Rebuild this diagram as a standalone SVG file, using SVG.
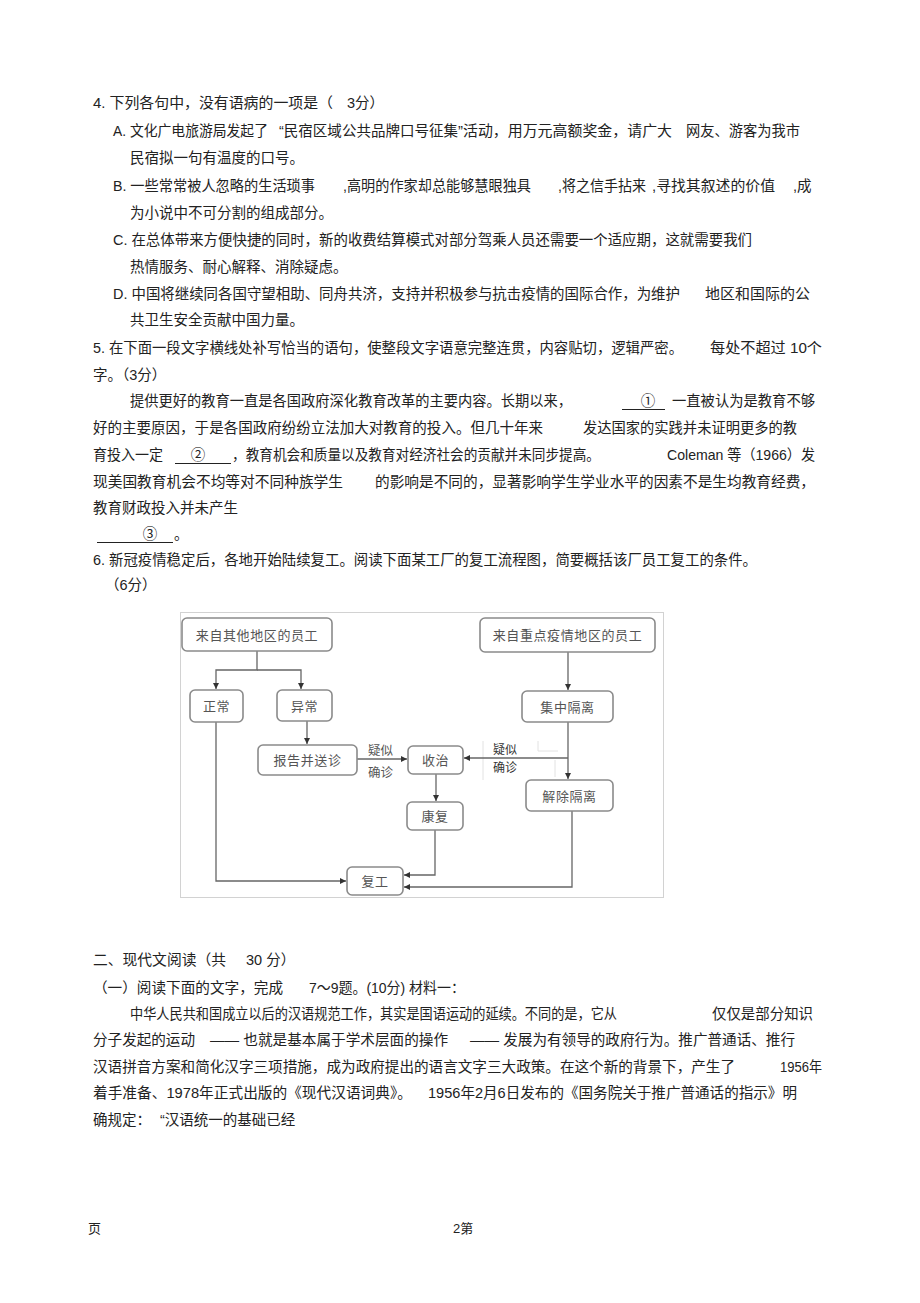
<svg xmlns="http://www.w3.org/2000/svg" width="920" height="1303" viewBox="0 0 920 1303">
<style>
.t{font-family:"Liberation Sans","Noto Sans CJK SC",sans-serif;font-size:14.5px;fill:#222}
.n rect{fill:#fff;stroke:#8a8a8a;stroke-width:1.6}
.n text{font-family:"Noto Sans CJK SC",sans-serif;font-size:13px;fill:#555;text-anchor:middle;letter-spacing:0.6px}
.lb{font-family:"Noto Sans CJK SC",sans-serif;font-size:12.5px;fill:#555}
.lb2{font-family:"Noto Sans CJK SC",sans-serif;font-size:12px;fill:#333}
.c path{fill:none;stroke:#666;stroke-width:1.3}
.ul{stroke:#222;stroke-width:1}
</style>
<defs>
<marker id="ah" markerUnits="userSpaceOnUse" markerWidth="8" markerHeight="8" refX="6" refY="4" orient="auto">
<path d="M0,1 L6,4 L0,7 Z" fill="#333"/>
</marker>
</defs>
<rect width="920" height="1303" fill="#fff"/>

<g id="question-text">
<text class="t" x="93" y="108" textLength="240" lengthAdjust="spacingAndGlyphs">4. 下列各句中，没有语病的一项是（</text>
<text class="t" x="347" y="108">3分）</text>

<text class="t" x="113" y="136" textLength="155" lengthAdjust="spacingAndGlyphs">A. 文化广电旅游局发起了</text>
<text class="t" x="279" y="136" textLength="179" lengthAdjust="spacingAndGlyphs">“民宿区域公共品牌口号征集</text>
<text class="t" x="458" y="136" textLength="214" lengthAdjust="spacingAndGlyphs">”活动，用万元高额奖金，请广大</text>
<text class="t" x="686" y="136" textLength="114" lengthAdjust="spacingAndGlyphs">网友、游客为我市</text>
<text class="t" x="130" y="163">民宿拟一句有温度的口号。</text>

<text class="t" x="113" y="191" textLength="202" lengthAdjust="spacingAndGlyphs">B. 一些常常被人忽略的生活琐事</text>
<text class="t" x="343" y="191" textLength="188" lengthAdjust="spacingAndGlyphs">,高明的作家却总能够慧眼独具</text>
<text class="t" x="558" y="191" textLength="88" lengthAdjust="spacingAndGlyphs">,将之信手拈来</text>
<text class="t" x="652" y="191" textLength="123" lengthAdjust="spacingAndGlyphs">,寻找其叙述的价值</text>
<text class="t" x="793" y="191">,成</text>
<text class="t" x="130" y="218">为小说中不可分割的组成部分。</text>

<text class="t" x="113" y="245" textLength="639" lengthAdjust="spacingAndGlyphs">C. 在总体带来方便快捷的同时，新的收费结算模式对部分驾乘人员还需要一个适应期，这就需要我们</text>
<text class="t" x="130" y="272">热情服务、耐心解释、消除疑虑。</text>

<text class="t" x="113" y="299" textLength="567" lengthAdjust="spacingAndGlyphs">D. 中国将继续同各国守望相助、同舟共济，支持并积极参与抗击疫情的国际合作，为维护</text>
<text class="t" x="705" y="299" textLength="105" lengthAdjust="spacingAndGlyphs">地区和国际的公</text>
<text class="t" x="130" y="325">共卫生安全贡献中国力量。</text>

<text class="t" x="93" y="353" textLength="590" lengthAdjust="spacingAndGlyphs">5. 在下面一段文字横线处补写恰当的语句，使整段文字语意完整连贯，内容贴切，逻辑严密。</text>
<text class="t" x="710" y="353" textLength="112" lengthAdjust="spacingAndGlyphs">每处不超过 10个</text>
<text class="t" x="93" y="380">字。（3分）</text>

<text class="t" x="130" y="406" textLength="442" lengthAdjust="spacingAndGlyphs">提供更好的教育一直是各国政府深化教育改革的主要内容。长期以来，</text>
<line class="ul" x1="622" y1="409.5" x2="665" y2="409.5"/>
<text class="t" x="648" y="406" text-anchor="middle">①</text>
<text class="t" x="672" y="406" textLength="143" lengthAdjust="spacingAndGlyphs">一直被认为是教育不够</text>

<text class="t" x="93" y="433" textLength="450" lengthAdjust="spacingAndGlyphs">好的主要原因，于是各国政府纷纷立法加大对教育的投入。但几十年来</text>
<text class="t" x="583" y="433" textLength="214" lengthAdjust="spacingAndGlyphs">发达国家的实践并未证明更多的教</text>

<text class="t" x="93" y="460" textLength="70" lengthAdjust="spacingAndGlyphs">育投入一定</text>
<line class="ul" x1="175" y1="463.5" x2="231" y2="463.5"/>
<text class="t" x="198" y="460" text-anchor="middle">②</text>
<text class="t" x="232" y="460" textLength="368" lengthAdjust="spacingAndGlyphs">，教育机会和质量以及教育对经济社会的贡献并未同步提高。</text>
<text class="t" x="667" y="460" textLength="148" lengthAdjust="spacingAndGlyphs">Coleman 等（1966）发</text>

<text class="t" x="93" y="487" textLength="250" lengthAdjust="spacingAndGlyphs">现美国教育机会不均等对不同种族学生</text>
<text class="t" x="375" y="487" textLength="440" lengthAdjust="spacingAndGlyphs">的影响是不同的，显著影响学生学业水平的因素不是生均教育经费，</text>
<text class="t" x="93" y="513">教育财政投入并未产生</text>
<line class="ul" x1="97" y1="542.5" x2="173" y2="542.5"/>
<text class="t" x="150" y="539" text-anchor="middle">③</text>
<text class="t" x="174" y="539">。</text>

<text class="t" x="93" y="565" textLength="664" lengthAdjust="spacingAndGlyphs">6. 新冠疫情稳定后，各地开始陆续复工。阅读下面某工厂的复工流程图，简要概括该厂员工复工的条件。</text>
<text class="t" x="105" y="590">（6分）</text>
</g>

<rect id="frame" x="180.5" y="612.5" width="483" height="285" fill="none" stroke="#d2d2d2" stroke-width="1"/>
<g id="artifacts" fill="none" stroke="#e2e2e2" stroke-width="1">
<path d="M483,741 V780"/>
<path d="M538,741 V751 H558"/>
<path d="M555,760 V777"/>
</g>

<g id="connectors" class="c">
<path d="M257,651 V670 H216 V689" marker-end="url(#ah)"/>
<path d="M257,670 H301 V689" marker-end="url(#ah)"/>
<path d="M307,721 V744" marker-end="url(#ah)"/>
<path d="M357,759 H407" marker-end="url(#ah)"/>
<path d="M568,652 V690" marker-end="url(#ah)"/>
<path d="M568,722 V779" marker-end="url(#ah)"/>
<path d="M568,758 H464" marker-end="url(#ah)"/>
<path d="M436,774 V801" marker-end="url(#ah)"/>
<path d="M216,722 V881 H346" marker-end="url(#ah)"/>
<path d="M435,830 V875 H404" marker-end="url(#ah)"/>
<path d="M572,811 V887 H404" marker-end="url(#ah)"/>
</g>

<g id="edge-labels">
<text class="lb" x="368" y="755">疑似</text>
<text class="lb" x="368" y="777">确诊</text>
<text class="lb2" x="493" y="754">疑似</text>
<text class="lb2" x="493" y="772">确诊</text>
</g>

<g id="n-other" class="n"><rect x="182" y="618" width="150" height="33" rx="5"/><text x="257" y="639.5">来自其他地区的员工</text></g>
<g id="n-key" class="n"><rect x="480" y="618" width="175" height="34" rx="5"/><text x="567.5" y="640">来自重点疫情地区的员工</text></g>
<g id="n-normal" class="n"><rect x="190" y="690" width="53" height="32" rx="5"/><text x="216.5" y="711">正常</text></g>
<g id="n-abnormal" class="n"><rect x="277" y="690" width="55" height="31" rx="5"/><text x="304.5" y="710.5">异常</text></g>
<g id="n-isolate" class="n"><rect x="522" y="691" width="91" height="31" rx="5"/><text x="567.5" y="711.5">集中隔离</text></g>
<g id="n-report" class="n"><rect x="258" y="745" width="99" height="30" rx="5"/><text x="307.5" y="765">报告并送诊</text></g>
<g id="n-admit" class="n"><rect x="408" y="746" width="55" height="28" rx="5"/><text x="435.5" y="765">收治</text></g>
<g id="n-release" class="n"><rect x="526" y="780" width="87" height="31" rx="5"/><text x="569.5" y="800.5">解除隔离</text></g>
<g id="n-recover" class="n"><rect x="407" y="802" width="56" height="28" rx="5"/><text x="435" y="821">康复</text></g>
<g id="n-resume" class="n"><rect x="347" y="867" width="56" height="28" rx="5"/><text x="375" y="886">复工</text></g>

<g id="reading-text">
<text class="t" x="93" y="965" textLength="133" lengthAdjust="spacingAndGlyphs">二、现代文阅读（共</text>
<text class="t" x="246" y="965">30 分）</text>
<text class="t" x="93" y="993" textLength="190" lengthAdjust="spacingAndGlyphs">（一）阅读下面的文字，完成</text>
<text class="t" x="309" y="993" textLength="156" lengthAdjust="spacingAndGlyphs">7～9题。(10分) 材料一：</text>
<text class="t" x="130" y="1019" textLength="487" lengthAdjust="spacingAndGlyphs">中华人民共和国成立以后的汉语规范工作，其实是国语运动的延续。不同的是，它从</text>
<text class="t" x="712" y="1019" textLength="101" lengthAdjust="spacingAndGlyphs">仅仅是部分知识</text>
<text class="t" x="93" y="1045" textLength="102" lengthAdjust="spacingAndGlyphs">分子发起的运动</text>
<text class="t" x="210" y="1045" textLength="238" lengthAdjust="spacingAndGlyphs">—— 也就是基本属于学术层面的操作</text>
<text class="t" x="470" y="1045" textLength="325" lengthAdjust="spacingAndGlyphs">—— 发展为有领导的政府行为。推广普通话、推行</text>
<text class="t" x="93" y="1072" textLength="642" lengthAdjust="spacingAndGlyphs">汉语拼音方案和简化汉字三项措施，成为政府提出的语言文字三大政策。在这个新的背景下，产生了</text>
<text class="t" x="780" y="1072" textLength="42" lengthAdjust="spacingAndGlyphs">1956年</text>
<text class="t" x="93" y="1098" textLength="319" lengthAdjust="spacingAndGlyphs">着手准备、1978年正式出版的《现代汉语词典》。</text>
<text class="t" x="428" y="1098" textLength="369" lengthAdjust="spacingAndGlyphs">1956年2月6日发布的《国务院关于推广普通话的指示》明</text>
<text class="t" x="93" y="1125">确规定：</text>
<text class="t" x="160" y="1125">“汉语统一的基础已经</text>
</g>

<g id="footer">
<text class="t" x="88" y="1233" style="font-size:13px">页</text>
<text class="t" x="453" y="1233" style="font-size:13px">2第</text>
</g>
</svg>
